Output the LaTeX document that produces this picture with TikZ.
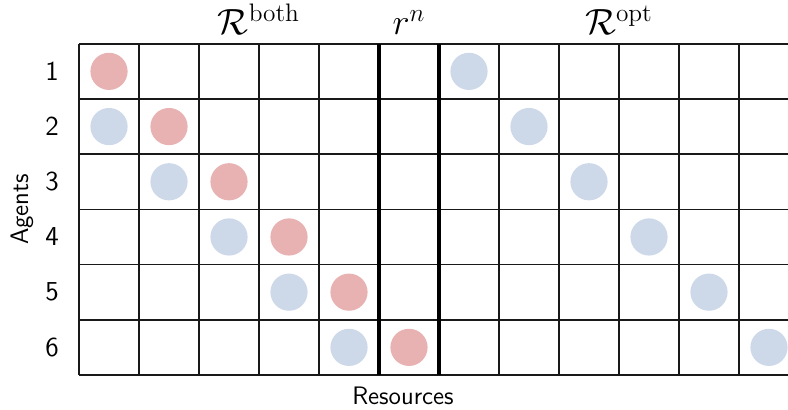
\documentclass[tikz,border=0pt]{standalone}
\usepackage{amsmath}
\usetikzlibrary{positioning}
\definecolor{agentred}{RGB}{232,178,178}
\definecolor{resblue}{RGB}{205,216,233}
\tikzset{
  gridline/.style={line width=0.7pt, color=black!90},
  sepline/.style={line width=1.6pt, color=black},
  redtoken/.style={circle, fill=agentred, minimum size=0.62cm, inner sep=0pt},
  bluetoken/.style={circle, fill=resblue, minimum size=0.62cm, inner sep=0pt},
  rowlabel/.style={font=\sffamily\fontsize{13}{15}\selectfont},
  axislabel/.style={font=\sffamily\large},
  setlabel/.style={font=\LARGE, anchor=base}
}

\begin{document}
\begin{tikzpicture}[x=1cm, y=0.92cm]
  \useasboundingbox (-1.317,-0.634) rectangle (11.817,6.793);

  % Grid
  \foreach \y in {0,...,6}
    \draw[gridline] (0,\y) -- (11.817,\y);
  \foreach \x in {0,...,11}
    \draw[gridline] (\x,0) -- (\x,6);

  % Column of r^n
  \draw[sepline] (5,0) -- (5,6);
  \draw[sepline] (6,0) -- (6,6);

  % Agents and their tokens
  \foreach \i in {1,...,6} {
    \node[redtoken] (red\i) at (\i-0.5, 6.5-\i) {};
    \node[bluetoken] (opt\i) at (\i+5.5, 6.5-\i) {};
    \node[rowlabel] (row\i) at (-0.45, 6.5-\i) {\i};
  }
  \foreach \i in {2,...,6}
    \node[bluetoken] (both\i) at (\i-1.5, 6.5-\i) {};

  % Set labels
  \node[setlabel] (Rboth) at (3,6.159) {$\mathcal{R}^{\mathrm{both}}$};
  \node[setlabel] (rn) at (5.5,6.159) {$r^n$};
  \node[setlabel] (Ropt) at (9,6.159) {$\mathcal{R}^{\mathrm{opt}}$};

  % Axis labels
  \node[axislabel, rotate=90] (agents) at (-0.95,3) {Agents};
  \node[axislabel, anchor=base] (resources) at (5.4,-0.543) {Resources};
\end{tikzpicture}
\end{document}
